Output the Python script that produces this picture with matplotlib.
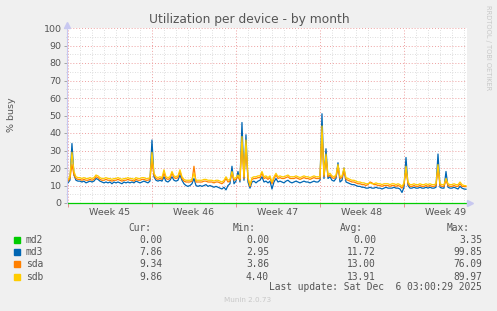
import numpy as np
import matplotlib.pyplot as plt
from matplotlib.transforms import blended_transform_factory

# samples every 4 hours, one row per day (x in days from start of week 45)
md3 = [
    11.5, 13, 34, 16, 13, 12.5,
    12.5, 12, 12.5, 11.5, 12, 12.5,
    12, 12.5, 14, 13.5, 12.5, 12,
    11.5, 12, 11.5, 12, 11, 12,
    11.5, 12, 11.5, 11, 12, 11.5,
    12, 11.5, 12, 11.5, 12.5, 12,
    11.5, 12, 12.5, 12, 11.5, 12.5,
    36, 15, 13, 12.5, 13, 12.5,
    15, 12.5, 12, 13, 15, 13,
    12.5, 13, 16, 13, 11, 10,
    9.5, 10, 11, 14, 10, 9.5,
    10, 9.5, 10, 10.5, 9.5, 10,
    9.5, 9, 9.5, 9, 8.5, 8,
    9, 7.5, 10, 11, 21, 11,
    12.5, 18, 12, 46, 13, 39,
    12, 8.5, 12, 12.5, 11.5, 12.5,
    13, 15, 12, 12.5, 11.5, 12.5,
    8, 12, 14, 12, 12.5, 12,
    11.5, 12.5, 13, 12, 11.5, 12,
    12.5, 12, 11.5, 12, 12.5, 12,
    12, 11.5, 12, 12.5, 12, 12,
    13, 51, 14, 31, 14, 15,
    13, 12.5, 14, 23, 12, 13,
    20, 12, 11.5, 11, 10.5, 10.5,
    10, 9.5, 9.5, 9, 9, 8.5,
    8.5, 9, 8.5, 8.5, 9, 8.5,
    8.5, 8, 8.5, 9, 8.5, 8.5,
    8.5, 9, 8.5, 8.5, 8, 6,
    9, 26, 10, 8.5, 8.5, 9,
    8.5, 8.5, 9, 8.5, 8.5, 9,
    8.5, 9, 8.5, 8.5, 9, 28,
    9, 8.5, 8.5, 18, 9, 8.5,
    8.5, 9, 8.5, 8, 9.5, 8.5,
    8, 7.86,
]

sda = [
    12.5, 14, 22, 16, 14, 13.5,
    13.5, 13, 13.5, 13, 13, 13.5,
    13, 13.5, 15, 14.5, 13.5, 13,
    13, 13.5, 13, 13, 12.5, 13,
    13, 13.5, 13, 12.5, 13, 13,
    13.5, 13, 13, 12.5, 13.5, 13,
    13, 13.5, 13.5, 13, 13, 13.5,
    24, 16, 14, 13.5, 14, 13.5,
    17, 14, 13.5, 14, 17, 14.5,
    14, 14.5, 18, 14, 12.5, 12,
    12, 12, 12.5, 21, 12, 12,
    12, 12, 12.5, 12.5, 12, 12,
    12, 11.5, 12, 12, 11.5, 11,
    12, 14, 12, 12.5, 17, 13,
    13.5, 15, 13, 34, 14, 32,
    14, 9.5, 13.5, 14, 14, 14.5,
    14.5, 17, 14, 14.5, 13.5, 14.5,
    11, 14, 16, 14, 14.5, 14,
    14, 14.5, 15, 14, 14, 14,
    14.5, 14, 13.5, 14, 14.5, 14,
    14, 13.5, 14, 14.5, 14, 14,
    14, 40, 15, 26, 15, 16,
    14.5, 14, 15, 20, 14, 14.5,
    18, 13.5, 13, 12.5, 12, 12,
    11.5, 11, 11, 10.5, 10.5, 10,
    10.5, 12, 11.5, 10.5, 10.5, 10,
    10, 9.5, 10, 10, 10, 9.5,
    10, 10, 9.5, 10, 9.5, 8.5,
    10.5, 19, 11, 9.5, 9.5, 10,
    9.5, 9.5, 10, 9.5, 9.5, 10,
    9.5, 10, 9.5, 9.5, 10, 20,
    10, 9.5, 9.5, 13, 10, 9.5,
    9.5, 10, 9.5, 9.5, 11, 9.5,
    9.4, 9.34,
]

sdb = [
    13.5, 15, 29, 18, 15, 14.5,
    14.5, 14, 14.5, 14, 14, 14.5,
    14, 14.5, 16, 15.5, 14.5, 14,
    14, 14.5, 14, 14, 13.5, 14,
    14, 14.5, 14, 13.5, 14, 14,
    14.5, 14, 14, 13.5, 14.5, 14,
    14, 14.5, 14.5, 14, 14, 14.5,
    29, 17, 15, 14.5, 15, 14.5,
    19, 15, 14.5, 15, 18, 15.5,
    15, 15.5, 19, 15, 13.5, 13,
    13, 13, 13.5, 17, 13, 13,
    13, 13, 13.5, 13.5, 13, 13,
    13, 12.5, 13, 13, 12.5, 12,
    13, 15, 13, 13.5, 18, 14,
    14.5, 16, 14, 38, 15, 36,
    15, 10, 14.5, 15, 15, 15.5,
    15.5, 18, 15, 15.5, 14.5, 15.5,
    12, 15, 17, 15, 15.5, 15,
    15, 15.5, 16, 15, 15, 15,
    15.5, 15, 14.5, 15, 15.5, 15,
    15, 14.5, 15, 15.5, 15, 15,
    15, 44, 16, 28, 16, 17,
    15.5, 15, 16, 22, 15, 15.5,
    20, 14.5, 14, 13.5, 13, 13,
    12.5, 12, 12, 11.5, 11.5, 11,
    11, 11.5, 11, 11, 11.5, 11,
    11, 10.5, 11, 11, 11, 10.5,
    11, 11, 10.5, 11, 10.5, 9.5,
    11.5, 21, 12, 10.5, 10.5, 11,
    10.5, 10.5, 11, 10.5, 10.5, 11,
    10.5, 11, 10.5, 10.5, 11, 22,
    11, 10.5, 10.5, 14, 11, 10.5,
    10.5, 11, 10.5, 10.5, 12, 10.5,
    10, 9.86,
]

md2 = [0.0] * len(md3)

days = np.arange(len(md3)) / 6.0

names = ["md2", "md3", "sda", "sdb"]
colors = ["#00cc00", "#0066b3", "#ff8000", "#ffcc00"]
cur = ["0.00", "7.86", "9.34", "9.86"]
mins = ["0.00", "2.95", "3.86", "4.40"]
avgs = ["0.00", "11.72", "13.00", "13.91"]
maxs = ["3.35", "99.85", "76.09", "89.97"]
week_labels = ["Week 45", "Week 46", "Week 47", "Week 48", "Week 49"]

W, H = 497, 311
fig = plt.figure(figsize=(W / 100, H / 100), dpi=100, facecolor="#f0f0f0")


def fx(px):
    return px / W


def fy(py):
    return 1 - py / H


ax = fig.add_axes([fx(67), fy(203), fx(467) - fx(67), fy(28) - fy(203)])
ax.set_facecolor("white")
ax.set_xlim(-0.08, 33.25)
ax.set_ylim(0, 100)

# grid
ax.set_yticks(np.arange(0, 101, 10))
ax.set_yticks(np.arange(0, 101, 5), minor=True)
ax.set_xticks([0, 7, 14, 21, 28])
ax.set_xticks(np.arange(0, 34, 1), minor=True)
ax.grid(True, which="minor", color="#d4d4d4", linestyle=(0, (1, 2)), lw=0.6)
ax.grid(True, which="major", color="#eea0a0", linestyle=(0, (1, 2)), lw=0.7)
ax.set_axisbelow(True)
ax.set_xticklabels([])
ax.tick_params(axis="x", which="major", length=3, color="#e08080", width=0.6)
ax.tick_params(axis="x", which="minor", length=0)
ax.tick_params(axis="y", which="major", length=2, color="#999999", width=0.6,
               labelsize=6.8, labelcolor="#555555", pad=2)
ax.tick_params(axis="y", which="minor", length=1, color="#bbbbbb", width=0.5)
for s in ["top", "right", "bottom"]:
    ax.spines[s].set_visible(False)
ax.spines["left"].set_color("#c8c8f0")
ax.spines["left"].set_linewidth(0.8)

trans = blended_transform_factory(ax.transData, ax.transAxes)
for i, lab in enumerate(week_labels):
    ax.text(3.5 + 7 * i, -0.052, lab, transform=trans, ha="center", va="center",
            fontsize=6.8, color="#555555")

for vals, c in zip([md2, md3, sda, sdb], colors):
    ax.plot(days, vals, color=c, lw=0.9, clip_on=False)

# axis arrows
ax.plot([-0.08], [101.5], marker="^", ms=4, color="#c8c8f0", clip_on=False)
ax.plot([33.5], [0], marker=">", ms=4, color="#c8c8f0", clip_on=False)

fig.text(fx(249), fy(20), "Utilization per device - by month", ha="center",
         va="center", fontsize=8.8, color="#555555")
fig.text(fx(11), fy(115), "% busy", rotation=90, ha="center", va="center",
         fontsize=6.8, color="#555555")
fig.text(fx(488), fy(5), "RRDTOOL / TOBI OETIKER", rotation=270, ha="center",
         va="top", fontsize=4.8, color="#c8c8c8")

mono = "DejaVu Sans Mono"
hy = 228
for x, h in zip([151, 256, 363, 470], ["Cur:", "Min:", "Avg:", "Max:"]):
    fig.text(fx(x), fy(hy), h, ha="right", va="center", family=mono,
             fontsize=6.9, color="#555555")
for i, n in enumerate(names):
    y = 240 + 12.2 * i
    fig.patches.append(plt.Rectangle((fx(14), fy(y + 3)), fx(6), fy(0) - fy(6),
                                     transform=fig.transFigure,
                                     color=colors[i]))
    fig.text(fx(26), fy(y), n, ha="left", va="center", family=mono,
             fontsize=6.9, color="#555555")
    for x, v in zip([162, 269, 376, 482], [cur[i], mins[i], avgs[i], maxs[i]]):
        fig.text(fx(x), fy(y), v, ha="right", va="center", family=mono,
                 fontsize=6.9, color="#555555")

fig.text(fx(482), fy(287), "Last update: Sat Dec  6 03:00:29 2025",
         ha="right", va="center", family=mono, fontsize=6.9, color="#555555")
fig.text(fx(248), fy(300), "Munin 2.0.73", ha="center", va="center",
         fontsize=5.2, color="#c8c8c8")

fig.savefig("out.png", dpi=100, facecolor=fig.get_facecolor())
